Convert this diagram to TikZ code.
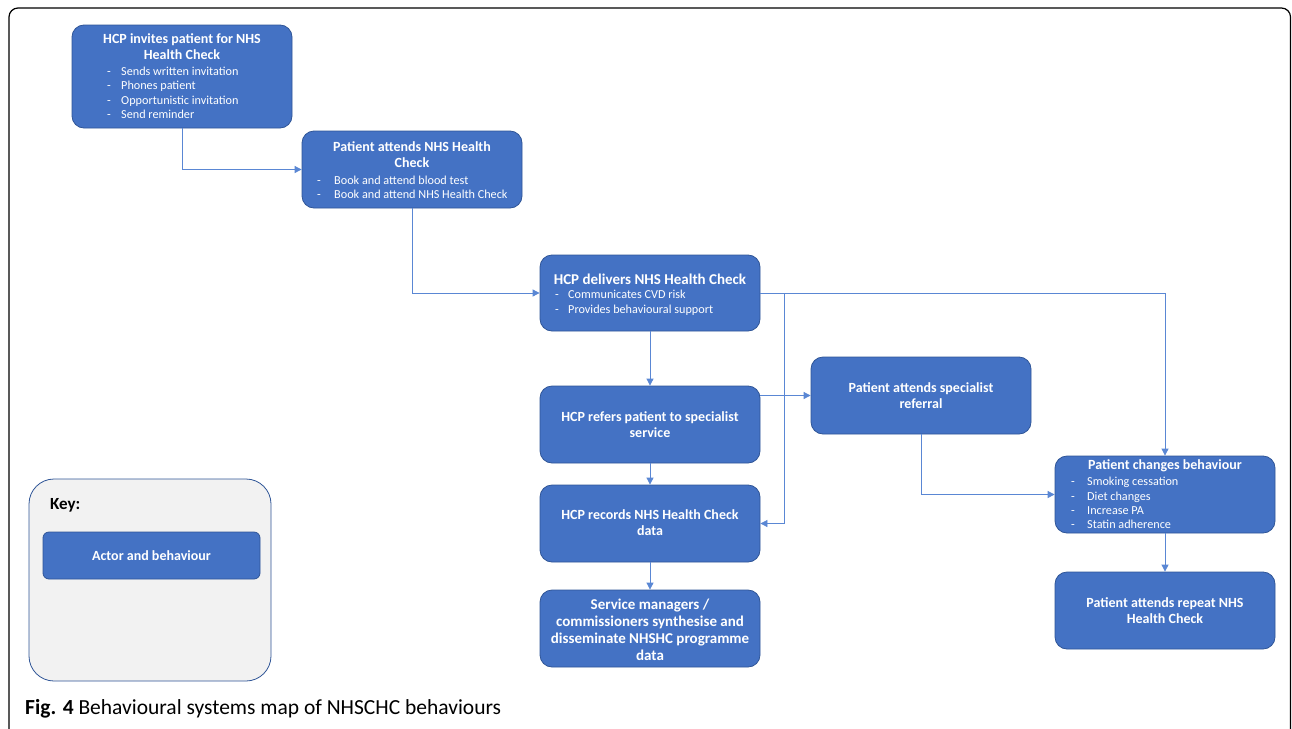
\documentclass[tikz,border=0pt]{standalone}
\usepackage{fontspec}
\setmainfont{Carlito}
\usetikzlibrary{arrows.meta}
\definecolor{boxfill}{RGB}{68,114,196}
\definecolor{boxedge}{RGB}{47,85,151}
\definecolor{connc}{RGB}{90,135,212}
\definecolor{keyfill}{RGB}{242,242,242}
\begin{document}
\begin{tikzpicture}[x=1pt,y=-1pt,
 box/.style={draw=boxedge, line width=0.8pt, fill=boxfill, rounded corners=12pt, minimum width=220pt, minimum height=77pt, inner sep=0pt},
 ttl/.style={text=white, font=\fontsize{14}{16}\selectfont\bfseries, align=center, inner sep=0pt},
 btxt/.style={text=white, font=\fontsize{12.2}{14}\selectfont, anchor=west, inner sep=0pt, text height=8.5pt, text depth=2.5pt},
 conn/.style={draw=connc, line width=0.8pt, -{Triangle[length=7pt,width=7pt]}}]
\useasboundingbox (0,0) rectangle (1292,728);
\fill[white] (0,0) rectangle (1292,728);
% frame
\draw[line width=1.2pt, rounded corners=9pt] (9,8) rectangle (1290.5,740);

% boxes
\node[box, minimum height=103pt] (a) at (182,76.5) {};
\node[box] (b) at (412,169.5) {};
\node[box, minimum height=76pt] (c) at (650,293) {};
\node[box] (d) at (650,424.5) {};
\node[box] (e) at (650,523.5) {};
\node[box] (f) at (650,628.5) {};
\node[box] (g) at (921,395.5) {};
\node[box] (h) at (1165,494.5) {};
\node[box] (i) at (1165,610.5) {};

% texts
\node[ttl] (at) at (182,47) {HCP invites patient for NHS\\Health Check};
\foreach \yy/\tt [count=\k] in {72/Sends written invitation,86/Phones patient,101/Opportunistic invitation,115/Send reminder}{
  \node[btxt] (ad\k) at (107,\yy) {-};
  \node[btxt] (ab\k) at (121,\yy) {\tt};
}
\node[ttl] (bt) at (412,155) {Patient attends NHS Health\\Check};
\foreach \yy/\tt [count=\k] in {181/Book and attend blood test,195/Book and attend NHS Health Check}{
  \node[btxt] (bd\k) at (317,\yy) {-};
  \node[btxt] (bb\k) at (334,\yy) {\tt};
}
\node[ttl, font=\fontsize{15}{16}\selectfont\bfseries] (ct) at (650,279) {HCP delivers NHS Health Check};
\foreach \yy/\tt [count=\k] in {295/Communicates CVD risk,310/Provides behavioural support}{
  \node[btxt] (cd\k) at (555,\yy) {-};
  \node[btxt] (cb\k) at (568,\yy) {\tt};
}
\node[ttl] (dt) at (650,425) {HCP refers patient to specialist\\service};
\node[ttl] (et) at (650,523) {HCP records NHS Health Check\\data};
\node[ttl, font=\fontsize{15}{17}\selectfont\bfseries] (ft) at (650,629.5) {Service managers /\\commissioners synthesise and\\disseminate NHSHC programme\\data};
\node[ttl] (gt) at (921,396) {Patient attends specialist\\referral};
\node[ttl] (ht) at (1165,466) {Patient changes behaviour};
\foreach \yy/\tt [count=\k] in {482/Smoking cessation,497/Diet changes,511/Increase PA,525/Statin adherence}{
  \node[btxt] (hd\k) at (1071,\yy) {-};
  \node[btxt] (hb\k) at (1087,\yy) {\tt};
}
\node[ttl] (it) at (1165,611) {Patient attends repeat NHS\\Health Check};

% connectors
\coordinate (cbr) at (784,293);
\draw[conn] (a.south) |- (b.west);
\draw[conn] (b.south) |- (c.west);
\draw[conn] (c.south) -- (d.north);
\draw[conn] (c.east) -| (h.north);
\draw[conn] (cbr) |- (e.east);
\draw[conn] (d.east |- g.west) -- (g.west);
\draw[conn] (d.south) -- (e.north);
\draw[conn] (e.south) -- (f.north);
\draw[conn] (g.south) |- (h.west);
\draw[conn] (h.south) -- (i.north);

% key
\node[draw=boxedge, line width=0.8pt, fill=keyfill, rounded corners=25pt, minimum width=242pt, minimum height=202pt, inner sep=0pt] (key) at (150,580) {};
\node[anchor=west, inner sep=0pt, font=\fontsize{17}{18}\selectfont\bfseries] (keyl) at (50,505) {Key:};
\node[box, rounded corners=6pt, minimum width=217pt, minimum height=47pt] (kb) at (151.5,555.5) {};
\node[ttl] (kbt) at (151.5,556) {Actor and behaviour};

% caption
\node[anchor=base west, inner sep=0pt, font=\fontsize{21.5}{24}\selectfont] (cap) at (25,714) {\textbf{Fig. 4} Behavioural systems map of NHSCHC behaviours};
\end{tikzpicture}
\end{document}
